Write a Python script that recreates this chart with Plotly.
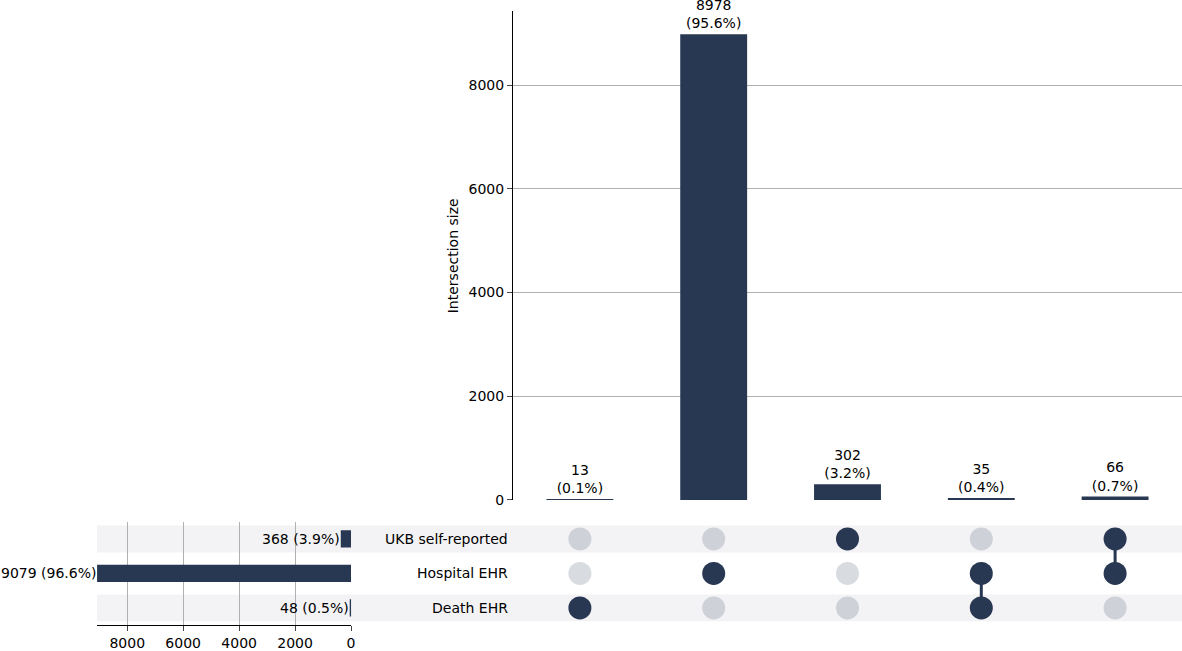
import plotly.graph_objects as go

# sets (top to bottom in the matrix) and their totals
sets = ['UKB self-reported', 'Hospital EHR', 'Death EHR']
set_totals = [368, 9079, 48]

# intersections, left to right
combos = [
    ['Death EHR'],
    ['Hospital EHR'],
    ['UKB self-reported'],
    ['Hospital EHR', 'Death EHR'],
    ['UKB self-reported', 'Hospital EHR'],
]
combo_sizes = [13, 8978, 302, 35, 66]

NAVY = '#283752'
FADED = 'rgba(40,55,82,0.18)'
BAND = '#f3f3f5'
GRID = '#b0b0b0'
FONT = 'DejaVu Sans'
FS = 14

total_n = sum(combo_sizes)
cols = list(range(len(combos)))
row_y = {s: len(sets) - 1 - i for i, s in enumerate(sets)}

fig = go.Figure()

# intersection size bars
bar_text = ['%d<br>(%.1f%%)' % (v, 100 * v / total_n) for v in combo_sizes]
fig.add_trace(go.Bar(x=cols, y=combo_sizes, width=0.5, marker_color=NAVY,
                     marker_line_width=0, text=bar_text, textposition='outside',
                     textfont=dict(size=FS, color='black'), cliponaxis=False,
                     xaxis='x', yaxis='y'))

# connectors between active dots
for c, members in zip(cols, combos):
    if len(members) > 1:
        ys = [row_y[s] for s in members]
        fig.add_trace(go.Scatter(x=[c, c], y=[min(ys), max(ys)], mode='lines',
                                 line=dict(color=NAVY, width=3),
                                 xaxis='x2', yaxis='y2'))

# matrix dots
dx, dy, dc = [], [], []
for c, members in zip(cols, combos):
    for s in sets:
        dx.append(c)
        dy.append(row_y[s])
        dc.append(NAVY if s in members else FADED)
fig.add_trace(go.Scatter(x=dx, y=dy, mode='markers',
                         marker=dict(size=23, color=dc, line_width=0),
                         xaxis='x2', yaxis='y2'))

# set totals
fig.add_trace(go.Bar(x=set_totals, y=[row_y[s] for s in sets], orientation='h',
                     width=0.5, marker_color=NAVY, marker_line_width=0,
                     xaxis='x3', yaxis='y2'))

annotations = []
for s, v in zip(sets, set_totals):
    annotations.append(dict(x=v, y=row_y[s], xref='x3', yref='y2',
                            text='%d (%.1f%%)' % (v, 100 * v / total_n),
                            showarrow=False, xanchor='right', xshift=1,
                            font=dict(size=FS, color='black')))
    annotations.append(dict(x=0.4298, y=row_y[s], xref='paper', yref='y2',
                            text=s, showarrow=False, xanchor='right', xshift=2,
                            font=dict(size=FS, color='black')))
annotations.append(dict(x=0.383, y=0.603, xref='paper', yref='paper',
                        text='Intersection size', textangle=-90, showarrow=False,
                        font=dict(size=FS, color='black')))

# shaded matrix rows
shapes = []
for i, s in enumerate(sets):
    if i % 2 == 0:
        shapes.append(dict(type='rect', xref='paper', yref='y2', x0=0.0821, x1=1,
                           y0=row_y[s] - 0.39, y1=row_y[s] + 0.39,
                           fillcolor=BAND, line_width=0, layer='below'))

fig.update_layout(
    width=1182, height=651,
    margin=dict(l=0, r=0, t=11, b=24, pad=0, autoexpand=False),
    plot_bgcolor='white', paper_bgcolor='white',
    showlegend=False,
    font=dict(family=FONT, size=FS, color='black'),
    annotations=annotations, shapes=shapes,
    xaxis=dict(domain=[0.434, 1], range=[-0.5, 4.5], showticklabels=False,
               showgrid=False, zeroline=False, ticks='', automargin=False),
    yaxis=dict(domain=[0.2062, 1], range=[0, 8978 * 1.05], anchor='x',
               tickvals=[0, 2000, 4000, 6000, 8000], ticks='outside', ticklen=5,
               showline=True, linecolor='black', linewidth=1, automargin=False,
               showgrid=True, gridcolor=GRID, gridwidth=1, zeroline=False),
    xaxis2=dict(domain=[0.434, 1], range=[-0.5, 4.5], anchor='y2',
                showticklabels=False, showgrid=False, zeroline=False,
                automargin=False),
    yaxis2=dict(domain=[0.003, 0.1709], range=[-0.5, 2.5], anchor='x2',
                showticklabels=False, showgrid=False, zeroline=False,
                automargin=False),
    xaxis3=dict(domain=[0.0821, 0.297], range=[9079, 0], anchor='y2',
                tickvals=[0, 2000, 4000, 6000, 8000], ticks='outside', ticklen=5,
                showline=True, linecolor='black', linewidth=1, automargin=False,
                showgrid=True, gridcolor=GRID, gridwidth=1, zeroline=False),
)

js = """
document.documentElement.style.overflow='hidden';
document.body.style.margin='0';
document.body.style.overflow='hidden';
"""
fig.write_html('out.html', config={'displayModeBar': False}, post_script=js)
